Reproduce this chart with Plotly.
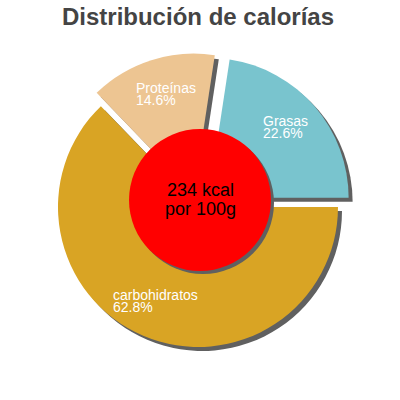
import plotly.graph_objects as go

labels = ["Grasas", "Proteínas", "carbohidratos"]
percent = [22.6, 14.6, 62.8]
colors = ["#79c4ce", "#edc592", "#d9a424"]
pulls = [0.1, 0.1, 0]
energy = "234 kcal"
per = "por 100g"

pie_x = [0.11, 0.88]
pie_y = [0.0975, 0.8675]
dot_x = [0.3225, 0.6775]
dot_y = [0.3225, 0.6775]
sh = 0.01
# el primer sector termina en las 3 en punto
rot = 90 - percent[0] * 3.6

fig = go.Figure()

# sombra de la tarta
fig.add_trace(go.Pie(values=percent, labels=labels, sort=False, direction="counterclockwise",
                     rotation=rot, pull=pulls, textinfo="none", hoverinfo="skip",
                     marker=dict(colors=["#606060"] * 3, line=dict(width=0)),
                     domain=dict(x=[pie_x[0] + sh, pie_x[1] + sh], y=[pie_y[0] - sh, pie_y[1] - sh])))
fig.add_trace(go.Pie(values=percent, labels=labels, sort=False, direction="counterclockwise",
                     rotation=rot, pull=pulls, textinfo="none", hoverinfo="skip",
                     marker=dict(colors=colors, line=dict(width=0)),
                     domain=dict(x=pie_x, y=pie_y)))
# circulo central + sombra
fig.add_trace(go.Pie(values=[1], textinfo="none", hoverinfo="skip",
                     marker=dict(colors=["#606060"], line=dict(width=0)),
                     domain=dict(x=[dot_x[0] + 0.0075, dot_x[1] + 0.0075], y=[dot_y[0] - 0.0075, dot_y[1] - 0.0075])))
fig.add_trace(go.Pie(values=[1], textinfo="none", hoverinfo="skip",
                     marker=dict(colors=["#ff0000"], line=dict(width=0)),
                     domain=dict(x=dot_x, y=dot_y)))

# posicion (px desde arriba-izquierda) de cada etiqueta
label_pos = [(261, 121), (134, 88), (111, 295)]
lab_font = dict(family="Liberation Sans, Arial", size=14, color="white")
for (lx, ly), name, p in zip(label_pos, labels, percent):
    fig.add_annotation(x=lx / 400, y=1 - ly / 400, xref="paper", yref="paper", xanchor="left",
                       yanchor="middle", showarrow=False, text=name, font=lab_font)
    fig.add_annotation(x=lx / 400, y=1 - (ly + 12) / 400, xref="paper", yref="paper", xanchor="left",
                       yanchor="middle", showarrow=False, text=f"{p}%", font=lab_font)

center_font = dict(family="Liberation Sans, Arial", size=18, color="black")
fig.add_annotation(x=0.5, y=1 - 190 / 400, xref="paper", yref="paper", showarrow=False,
                   text=energy, font=center_font)
fig.add_annotation(x=0.5, y=1 - 209 / 400, xref="paper", yref="paper", showarrow=False,
                   text=per, font=center_font)

fig.update_layout(
    width=400, height=400,
    margin=dict(l=0, r=0, t=0, b=0),
    showlegend=False,
    paper_bgcolor="white",
    title=dict(text="<b>Distribución de calorías</b>", x=0.495, y=0.9575, xanchor="center", yanchor="middle",
               font=dict(family="Liberation Sans, Arial", size=24, color="#444444")),
)

# sin el margen del body la figura queda en (0,0)
fig.write_html("out.html", config={"displayModeBar": False},
               post_script="document.body.style.margin='0';")
